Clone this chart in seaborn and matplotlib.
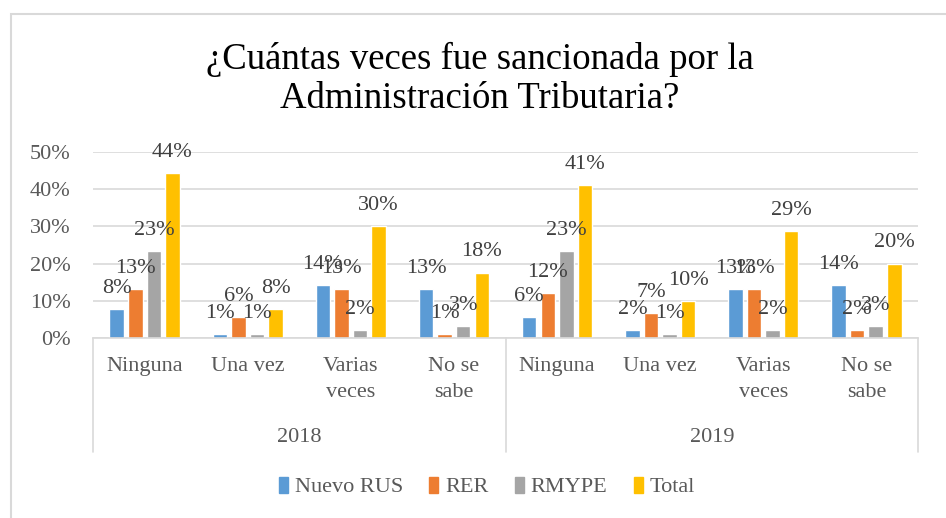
import matplotlib
matplotlib.use("Agg")
import matplotlib.pyplot as plt
import matplotlib.transforms as mtransforms
from matplotlib.patches import Rectangle
import seaborn as sns
import pandas as pd

years = ["2018", "2019"]
categories = ["Ninguna", "Una vez", "Varias\nveces", "No se\nsabe"]
series = ["Nuevo RUS", "RER", "RMYPE", "Total"]

nuevo_rus = [7.8, 1.0, 14.3, 13.2, 5.6, 2.2, 13.2, 14.3]
rer = [13.2, 5.6, 13.2, 1.0, 12.0, 6.6, 13.2, 2.2]
rmype = [23.3, 1.0, 2.2, 3.2, 23.3, 1.0, 2.2, 3.2]
total = [44.4, 7.8, 30.0, 17.6, 41.1, 10.0, 28.8, 20.0]

labels_nuevo_rus = ["8%", "1%", "14%", "13%", "6%", "2%", "13%", "14%"]
labels_rer = ["13%", "6%", "13%", "1%", "12%", "7%", "13%", "2%"]
labels_rmype = ["23%", "1%", "2%", "3%", "23%", "1%", "2%", "3%"]
labels_total = ["44%", "8%", "30%", "18%", "41%", "10%", "29%", "20%"]

palette = ["#5B9BD5", "#ED7D31", "#A5A5A5", "#FFC000"]

keys = [y + "|" + c for y in years for c in categories]
rows = []
for s, vals in zip(series, [nuevo_rus, rer, rmype, total]):
    for k, v in zip(keys, vals):
        rows.append({"grupo": k, "serie": s, "valor": v / 100})
df = pd.DataFrame(rows)

sns.set_theme(style="white")
plt.rcParams["font.family"] = ["Liberation Serif", "DejaVu Serif"]

fig = plt.figure(figsize=(9.46, 5.18), dpi=100)
ax = fig.add_axes([93 / 946, 1 - 338 / 518, (918 - 93) / 946, (338 - 152) / 518])

sns.barplot(data=df, x="grupo", y="valor", hue="serie", order=keys,
            hue_order=series, palette=palette, width=0.72, gap=0.22,
            saturation=1, ax=ax, legend=True)

fs = 16
ax.set_ylim(0, 0.5)
ax.set_xlim(-0.5, 7.5)
ax.set_yticks([0, 0.1, 0.2, 0.3, 0.4, 0.5])
ax.set_yticklabels(["0%", "10%", "20%", "30%", "40%", "50%"])
ax.yaxis.grid(True, color="#D9D9D9", linewidth=1.2)
ax.set_axisbelow(True)
for side in ["left", "right", "top"]:
    ax.spines[side].set_visible(False)
ax.spines["bottom"].set_color("#D9D9D9")
ax.spines["bottom"].set_linewidth(1.2)
ax.set_xlabel("")
ax.set_ylabel("")
ax.tick_params(axis="y", length=0, pad=16, labelsize=fs, labelcolor="#595959")
ax.tick_params(axis="x", length=0, pad=14, labelsize=fs, labelcolor="#595959")
ax.set_xticks(range(8))
ax.set_xticklabels(categories * 2)
for t in ax.get_xticklabels():
    t.set_linespacing(1.5)

all_labels = [labels_nuevo_rus, labels_rer, labels_rmype, labels_total]
for cont, labs in zip(ax.containers, all_labels):
    ax.bar_label(cont, labels=labs, padding=8, fontsize=fs, color="#404040")

# multi-level axis: year labels and separators
trans = mtransforms.blended_transform_factory(ax.transData, fig.transFigure)
for i, y in enumerate(years):
    ax.text(1.5 + 4 * i, 1 - 437 / 518, y, transform=trans, ha="center",
            va="center", fontsize=fs, color="#595959")
for xv in [-0.5, 3.5, 7.5]:
    ax.plot([xv, xv], [1 - 338 / 518, 1 - 452 / 518], transform=trans,
            color="#D9D9D9", linewidth=1.2, clip_on=False)

ax.get_legend().remove()
handles = [Rectangle((0, 0), 1, 1, color=c) for c in palette]
fig.legend(handles, series, loc="center", bbox_to_anchor=(487 / 946, 1 - 487 / 518),
           ncol=4, frameon=False, fontsize=fs, handlelength=0.4, handleheight=0.75,
           handletextpad=0.3, columnspacing=1.2, labelcolor="#595959")

fig.text(480 / 946, 1 - 79 / 518,
         "¿Cuántas veces fue sancionada por la\nAdministración Tributaria?",
         ha="center", va="center", fontsize=26.5, color="#000000", linespacing=1.2)

fig.patches.append(Rectangle((11 / 946, -0.1), 1.2, 1 - 14 / 518 + 0.1,
                             transform=fig.transFigure, fill=False,
                             edgecolor="#D9D9D9", linewidth=1.5))

fig.savefig("out.png", dpi=100)
